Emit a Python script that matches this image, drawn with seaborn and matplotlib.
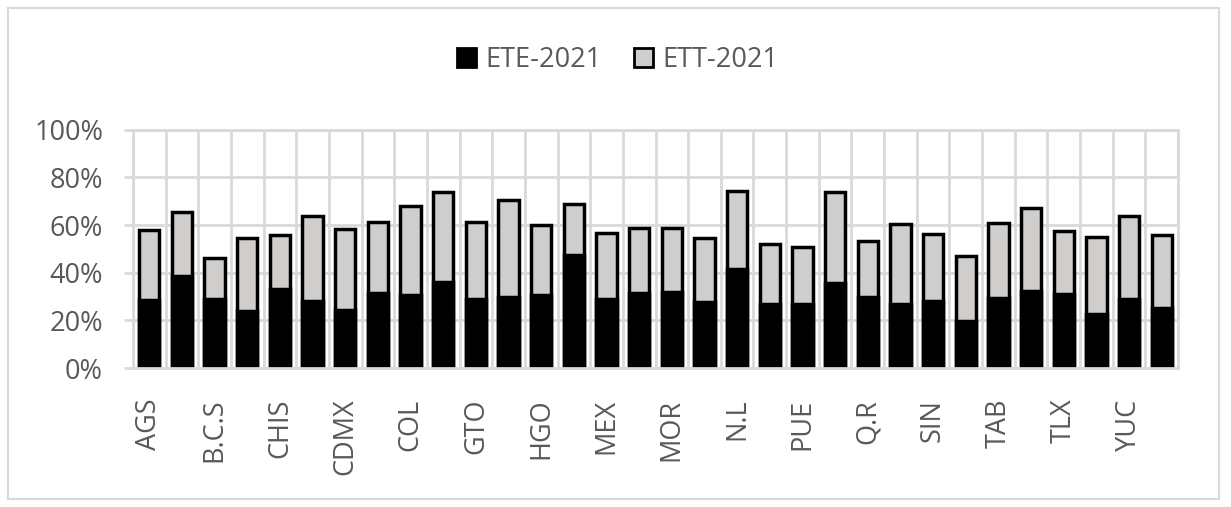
import numpy as np
import pandas as pd
import seaborn as sns
from matplotlib import pyplot as plt
from matplotlib.patches import Patch, Rectangle
from matplotlib.ticker import PercentFormatter

# Data (percent)
states = ['AGS', 'B.C', 'B.C.S', 'CAMP', 'CHIS', 'CHIH', 'CDMX', 'COAH',
          'COL', 'DGO', 'GTO', 'GRO', 'HGO', 'JAL', 'MEX', 'MICH',
          'MOR', 'NAY', 'N.L', 'OAX', 'PUE', 'QRO', 'Q.R', 'S.L.P',
          'SIN', 'SON', 'TAB', 'TAMPS', 'TLX', 'VER', 'YUC', 'ZAC']
ete_2021 = [28.4, 38.5, 28.8, 23.8, 33.0, 28.3, 24.5, 31.3,
            30.5, 36.1, 29.1, 29.9, 30.5, 47.3, 29.1, 31.3,
            31.8, 27.6, 41.7, 27.1, 27.1, 35.8, 29.9, 26.7,
            28.0, 19.9, 29.5, 32.5, 30.9, 22.9, 29.1, 25.3]
ett_2021 = [57.8, 65.7, 46.0, 54.7, 56.0, 63.9, 58.5, 61.4,
            68.1, 74.0, 61.5, 70.6, 60.1, 69.0, 56.8, 58.9,
            58.9, 54.7, 74.4, 52.2, 50.8, 73.7, 53.4, 60.4,
            56.4, 47.1, 61.0, 67.3, 57.6, 55.1, 63.9, 56.0]
# only every other state is labelled on the axis
shown_labels = [s if i % 2 == 0 else '' for i, s in enumerate(states)]

df = pd.DataFrame({'estado': states, 'ETE-2021': ete_2021, 'ETT-2021': ett_2021})

grid_c = '#d9d9d9'
text_c = '#595959'
grey = '#d0cdcd'
fs = 19.5

sns.set_theme(style='white')
plt.rcParams['font.family'] = ['Open Sans', 'DejaVu Sans']

fig = plt.figure(figsize=(12.31, 5.07), dpi=100)
ax = fig.add_axes([0.108, 0.274, 0.849, 0.470])

sns.barplot(data=df, x='estado', y='ETT-2021', color=grey, saturation=1,
            edgecolor='black', linewidth=2.5, width=0.62, ax=ax)
sns.barplot(data=df, x='estado', y='ETE-2021', color='black', saturation=1,
            edgecolor='black', linewidth=2.5, width=0.62, ax=ax)

ax.set_ylim(0, 100)
ax.set_xlim(-0.5, len(states) - 0.5)
ax.set_yticks(np.arange(0, 101, 20))
ax.yaxis.set_major_formatter(PercentFormatter(xmax=100, decimals=0))
ax.set_xticks(range(len(states)))
ax.set_xticklabels(shown_labels, rotation=90, fontsize=fs, color=text_c)
ax.set_xticks(np.arange(-0.5, len(states)), minor=True)

ax.grid(which='major', axis='y', color=grid_c, linewidth=2)
ax.grid(which='minor', axis='x', color=grid_c, linewidth=2)
ax.set_axisbelow(True)
for sp in ax.spines.values():
    sp.set_color(grid_c)
    sp.set_linewidth(2)

ax.tick_params(axis='y', which='major', left=True, length=6.5, width=2,
               color=grid_c, labelsize=fs, labelcolor=text_c, pad=15)
ax.tick_params(axis='x', which='both', bottom=False, pad=16)
ax.set_xlabel('')
ax.set_ylabel('')

handles = [Patch(facecolor='black', edgecolor='black', linewidth=2),
           Patch(facecolor=grey, edgecolor='black', linewidth=2)]
fig.legend(handles, ['ETE-2021', 'ETT-2021'], loc='center', ncol=2,
           bbox_to_anchor=(0.502, 0.882), frameon=False, fontsize=fs,
           labelcolor=text_c, handlelength=0.7, handleheight=0.7,
           handletextpad=0.35, columnspacing=1.2)

fig.patches.append(Rectangle((8 / 1231, 8 / 507), 1211 / 1231, 491 / 507,
                             transform=fig.transFigure, fill=False,
                             edgecolor=grid_c, linewidth=1.5))

fig.savefig('out.png', dpi=100)
